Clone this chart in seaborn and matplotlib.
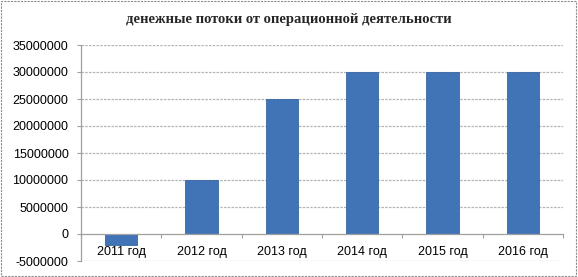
import matplotlib
matplotlib.use("Agg")
import matplotlib.pyplot as plt
import seaborn as sns
import pandas as pd
from matplotlib.patches import Rectangle
from matplotlib.ticker import FixedLocator

categories = ["2011 год", "2012 год", "2013 год", "2014 год", "2015 год", "2016 год"]
values = [-2000000, 10000000, 25000000, 30000000, 30000000, 30000000]
yticks = [-5000000, 0, 5000000, 10000000, 15000000, 20000000, 25000000, 30000000, 35000000]
title = "денежные потоки от операционной деятельности"

sns.set_style("white")
plt.rcParams['font.family'] = ['Liberation Sans', 'DejaVu Sans']

df = pd.DataFrame({"cat": categories, "val": values})

fig = plt.figure(figsize=(5.78, 2.77), dpi=100)
ax = fig.add_axes([81/578, 16/277, (563-81)/578, (261-45)/277])

sns.barplot(data=df, x="cat", y="val", ax=ax, color="#4174b6", width=0.4,
            saturation=1, edgecolor="#3a66a3", linewidth=0.6, zorder=3)

ax.set_ylim(-5000000, 35000000)
ax.set_xlim(-0.5, len(categories) - 0.5)
ax.set_yticks(yticks)
ax.set_yticklabels([str(v) for v in yticks])
ax.set_xlabel("")
ax.set_ylabel("")

for v in yticks:
    if v != 0:
        ax.axhline(v, color="#b4b4b4", lw=0.9, ls=(0, (2, 1)), zorder=1)

for s in ["top", "right"]:
    ax.spines[s].set_visible(False)
ax.spines["left"].set_color("#a0a0a0")
ax.spines["left"].set_linewidth(0.9)
ax.spines["bottom"].set_position(("data", 0))
ax.spines["bottom"].set_color("#a0a0a0")
ax.spines["bottom"].set_linewidth(0.9)
ax.spines["bottom"].set_zorder(4)

ax.tick_params(axis="y", length=3, width=0.8, color="#a0a0a0", pad=6,
               labelsize=9, labelcolor="#000000", left=True)
ax.tick_params(axis="x", which="major", length=0, pad=9, labelsize=9, labelcolor="#000000")
ax.xaxis.set_minor_locator(FixedLocator([i + 0.5 for i in range(-1, len(categories))]))
ax.tick_params(axis="x", which="minor", length=3, width=0.8, color="#a0a0a0", bottom=True)

fig.text(0.5, 1 - 20/277, title, ha="center", va="center", fontsize=10.5,
         fontweight="bold", family=["Liberation Serif", "DejaVu Serif"])

fig.patches.append(Rectangle((0.002, 0.004), 0.995, 0.992, transform=fig.transFigure,
                             fill=False, edgecolor="#8c8c8c", lw=0.8, ls=(0, (2, 1))))

fig.savefig("out.png", dpi=100)
